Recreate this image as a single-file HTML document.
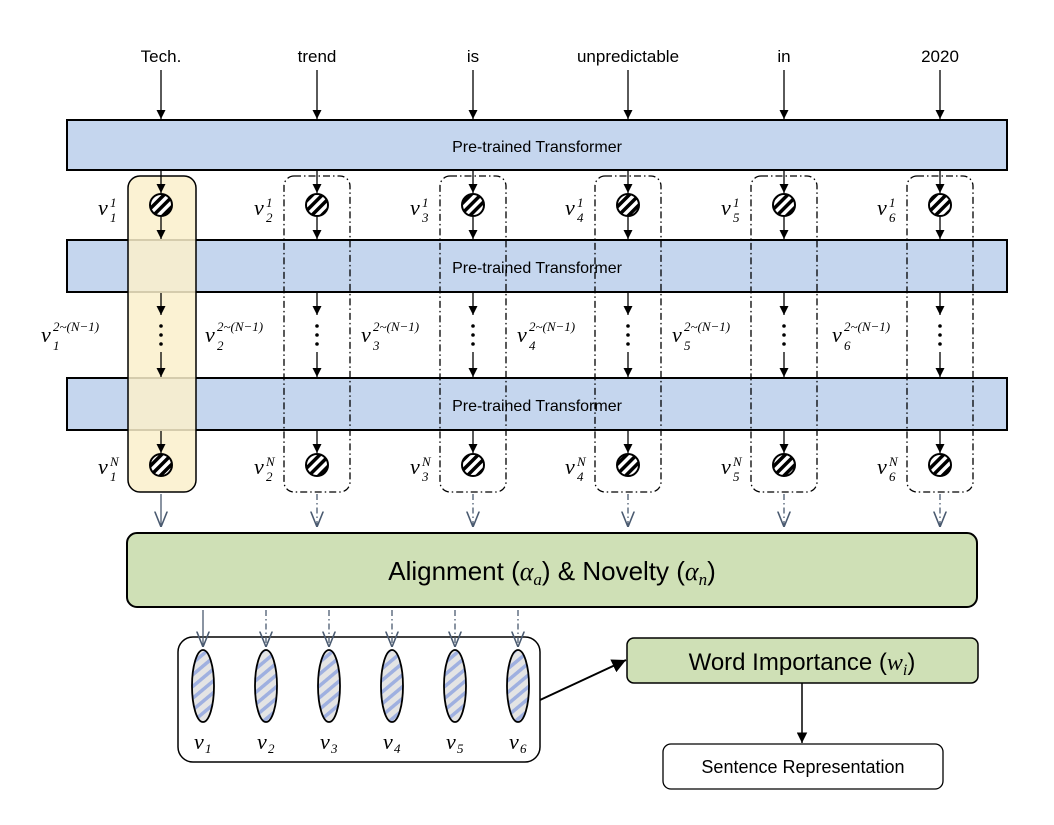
<!DOCTYPE html>
<html><head><meta charset="utf-8"><style>
html,body{margin:0;padding:0;background:#fff;}
svg{display:block;}
.w{font-family:"Liberation Sans",sans-serif;font-size:17px;text-anchor:middle;}
.m{font-family:"Liberation Serif",serif;font-style:italic;font-size:22px;}
.s{font-family:"Liberation Serif",serif;font-style:italic;font-size:13px;}
</style></head><body>
<svg width="1054" height="825" viewBox="0 0 1054 825" xmlns="http://www.w3.org/2000/svg">
<defs>
<marker id="a" viewBox="0 0 10 10" refX="10" refY="5" markerWidth="7" markerHeight="7" orient="auto"><path d="M0,0 L10,5 L0,10 z" fill="#000"/></marker>
<marker id="h" viewBox="0 0 10 10" refX="10" refY="5" markerWidth="12" markerHeight="12" orient="auto"><path d="M0,1 L10,5 L0,9" fill="none" stroke="#4a5a70" stroke-width="1"/></marker>
<pattern id="cp" width="7" height="7" patternUnits="userSpaceOnUse" patternTransform="rotate(45)"><rect width="7" height="7" fill="#fff"/><rect width="3.5" height="7" fill="#000"/></pattern>
<pattern id="ep" width="9" height="9" patternUnits="userSpaceOnUse" patternTransform="rotate(-40)"><rect width="9" height="9" fill="#e4e4e4"/><rect width="9" height="3.5" fill="#9fb0e0"/></pattern>
</defs>

<rect x="67" y="120" width="940" height="50" fill="#c5d6ee" stroke="#000" stroke-width="2"/>
<rect x="67" y="240" width="940" height="52" fill="#c5d6ee" stroke="#000" stroke-width="2"/>
<rect x="67" y="378" width="940" height="52" fill="#c5d6ee" stroke="#000" stroke-width="2"/>
<rect x="128" y="176" width="68" height="316" rx="12" fill="#faf0cb" fill-opacity="0.85" stroke="#000" stroke-width="1.5"/>
<g class="w" style="font-size:16px"><text x="537" y="152">Pre-trained Transformer</text><text x="537" y="273">Pre-trained Transformer</text><text x="537" y="411">Pre-trained Transformer</text></g>

<g fill="none" stroke="#000" stroke-width="1.3" stroke-dasharray="7,3,1.5,3">
<rect x="284" y="176" width="66" height="316" rx="10"/>
<rect x="440" y="176" width="66" height="316" rx="10"/>
<rect x="595" y="176" width="66" height="316" rx="10"/>
<rect x="751" y="176" width="66" height="316" rx="10"/>
<rect x="907" y="176" width="66" height="316" rx="10"/>
</g>

<g class="w"><text x="161" y="62">Tech.</text><text x="317" y="62">trend</text><text x="473" y="62">is</text><text x="628" y="62">unpredictable</text><text x="784" y="62">in</text><text x="940" y="62">2020</text></g>

<g stroke="#000" stroke-width="1.3" marker-end="url(#a)">
<line x1="161" y1="70" x2="161" y2="119"/><line x1="317" y1="70" x2="317" y2="119"/><line x1="473" y1="70" x2="473" y2="119"/><line x1="628" y1="70" x2="628" y2="119"/><line x1="784" y1="70" x2="784" y2="119"/><line x1="940" y1="70" x2="940" y2="119"/>
<line x1="161" y1="170" x2="161" y2="193"/><line x1="317" y1="170" x2="317" y2="193"/><line x1="473" y1="170" x2="473" y2="193"/><line x1="628" y1="170" x2="628" y2="193"/><line x1="784" y1="170" x2="784" y2="193"/><line x1="940" y1="170" x2="940" y2="193"/>
<line x1="161" y1="217" x2="161" y2="239"/><line x1="317" y1="217" x2="317" y2="239"/><line x1="473" y1="217" x2="473" y2="239"/><line x1="628" y1="217" x2="628" y2="239"/><line x1="784" y1="217" x2="784" y2="239"/><line x1="940" y1="217" x2="940" y2="239"/>
<line x1="161" y1="293" x2="161" y2="315"/><line x1="317" y1="293" x2="317" y2="315"/><line x1="473" y1="293" x2="473" y2="315"/><line x1="628" y1="293" x2="628" y2="315"/><line x1="784" y1="293" x2="784" y2="315"/><line x1="940" y1="293" x2="940" y2="315"/>
<line x1="161" y1="352" x2="161" y2="377"/><line x1="317" y1="352" x2="317" y2="377"/><line x1="473" y1="352" x2="473" y2="377"/><line x1="628" y1="352" x2="628" y2="377"/><line x1="784" y1="352" x2="784" y2="377"/><line x1="940" y1="352" x2="940" y2="377"/>
<line x1="161" y1="431" x2="161" y2="453"/><line x1="317" y1="431" x2="317" y2="453"/><line x1="473" y1="431" x2="473" y2="453"/><line x1="628" y1="431" x2="628" y2="453"/><line x1="784" y1="431" x2="784" y2="453"/><line x1="940" y1="431" x2="940" y2="453"/>
</g>
<g fill="#000">
<circle cx="161" cy="326" r="1.8"/><circle cx="161" cy="335" r="1.8"/><circle cx="161" cy="344" r="1.8"/>
<circle cx="317" cy="326" r="1.8"/><circle cx="317" cy="335" r="1.8"/><circle cx="317" cy="344" r="1.8"/>
<circle cx="473" cy="326" r="1.8"/><circle cx="473" cy="335" r="1.8"/><circle cx="473" cy="344" r="1.8"/>
<circle cx="628" cy="326" r="1.8"/><circle cx="628" cy="335" r="1.8"/><circle cx="628" cy="344" r="1.8"/>
<circle cx="784" cy="326" r="1.8"/><circle cx="784" cy="335" r="1.8"/><circle cx="784" cy="344" r="1.8"/>
<circle cx="940" cy="326" r="1.8"/><circle cx="940" cy="335" r="1.8"/><circle cx="940" cy="344" r="1.8"/>
</g>
<g fill="url(#cp)" stroke="#000" stroke-width="2">
<circle cx="161" cy="205" r="11"/><circle cx="317" cy="205" r="11"/><circle cx="473" cy="205" r="11"/><circle cx="628" cy="205" r="11"/><circle cx="784" cy="205" r="11"/><circle cx="940" cy="205" r="11"/>
<circle cx="161" cy="465" r="11"/><circle cx="317" cy="465" r="11"/><circle cx="473" cy="465" r="11"/><circle cx="628" cy="465" r="11"/><circle cx="784" cy="465" r="11"/><circle cx="940" cy="465" r="11"/>
</g>
<g class="m">
<text x="98" y="215">v</text><text x="254" y="215">v</text><text x="410" y="215">v</text><text x="565" y="215">v</text><text x="721" y="215">v</text><text x="877" y="215">v</text>
<text x="98" y="474">v</text><text x="254" y="474">v</text><text x="410" y="474">v</text><text x="565" y="474">v</text><text x="721" y="474">v</text><text x="877" y="474">v</text>
<text x="41" y="342">v</text><text x="205" y="342">v</text><text x="361" y="342">v</text><text x="517" y="342">v</text><text x="672" y="342">v</text><text x="832" y="342">v</text>
</g>
<g class="s">
<text x="110" y="207">1</text><text x="110" y="222">1</text>
<text x="266" y="207">1</text><text x="266" y="222">2</text>
<text x="422" y="207">1</text><text x="422" y="222">3</text>
<text x="577" y="207">1</text><text x="577" y="222">4</text>
<text x="733" y="207">1</text><text x="733" y="222">5</text>
<text x="889" y="207">1</text><text x="889" y="222">6</text>
<text x="110" y="466">N</text><text x="110" y="481">1</text>
<text x="266" y="466">N</text><text x="266" y="481">2</text>
<text x="422" y="466">N</text><text x="422" y="481">3</text>
<text x="577" y="466">N</text><text x="577" y="481">4</text>
<text x="733" y="466">N</text><text x="733" y="481">5</text>
<text x="889" y="466">N</text><text x="889" y="481">6</text>
<text x="53" y="331">2~(N−1)</text><text x="53" y="350">1</text>
<text x="217" y="331">2~(N−1)</text><text x="217" y="350">2</text>
<text x="373" y="331">2~(N−1)</text><text x="373" y="350">3</text>
<text x="529" y="331">2~(N−1)</text><text x="529" y="350">4</text>
<text x="684" y="331">2~(N−1)</text><text x="684" y="350">5</text>
<text x="844" y="331">2~(N−1)</text><text x="844" y="350">6</text>
</g>

<g stroke="#4a5a70" stroke-width="1.3" marker-end="url(#h)">
<line x1="161" y1="494" x2="161" y2="527"/>
</g>
<g stroke="#4a5a70" stroke-width="1.3" stroke-dasharray="6,3,1.5,3" marker-end="url(#h)">
<line x1="317" y1="494" x2="317" y2="527"/><line x1="473" y1="494" x2="473" y2="527"/><line x1="628" y1="494" x2="628" y2="527"/><line x1="784" y1="494" x2="784" y2="527"/><line x1="940" y1="494" x2="940" y2="527"/>
</g>

<rect x="127" y="533" width="850" height="74" rx="10" fill="#cfe0b6" stroke="#000" stroke-width="2"/>
<text x="552" y="580" style="font-family:'Liberation Sans',sans-serif;font-size:26px;text-anchor:middle">Alignment (<tspan style="font-family:'Liberation Serif',serif;font-style:italic">α<tspan font-size="17" dy="5">a</tspan></tspan><tspan dy="-5">) &amp; Novelty (</tspan><tspan style="font-family:'Liberation Serif',serif;font-style:italic">α<tspan font-size="17" dy="5">n</tspan></tspan><tspan dy="-5">)</tspan></text>

<rect x="178" y="637" width="362" height="125" rx="15" fill="#fff" stroke="#000" stroke-width="1.5"/>
<g stroke="#4a5a70" stroke-width="1.3" marker-end="url(#h)">
<line x1="203" y1="610" x2="203" y2="647"/>
</g>
<g stroke="#4a5a70" stroke-width="1.3" stroke-dasharray="6,3,1.5,3" marker-end="url(#h)">
<line x1="266" y1="610" x2="266" y2="647"/><line x1="329" y1="610" x2="329" y2="647"/><line x1="392" y1="610" x2="392" y2="647"/><line x1="455" y1="610" x2="455" y2="647"/><line x1="518" y1="610" x2="518" y2="647"/>
</g>
<g fill="url(#ep)" stroke="#000" stroke-width="1.8">
<ellipse cx="203" cy="686" rx="11" ry="36"/><ellipse cx="266" cy="686" rx="11" ry="36"/><ellipse cx="329" cy="686" rx="11" ry="36"/><ellipse cx="392" cy="686" rx="11" ry="36"/><ellipse cx="455" cy="686" rx="11" ry="36"/><ellipse cx="518" cy="686" rx="11" ry="36"/>
</g>
<g class="m">
<text x="194" y="749">v</text><text x="257" y="749">v</text><text x="320" y="749">v</text><text x="383" y="749">v</text><text x="446" y="749">v</text><text x="509" y="749">v</text>
</g>
<g class="s">
<text x="205" y="753">1</text><text x="268" y="753">2</text><text x="331" y="753">3</text><text x="394" y="753">4</text><text x="457" y="753">5</text><text x="520" y="753">6</text>
</g>

<line x1="540" y1="700" x2="626" y2="660" stroke="#000" stroke-width="2" marker-end="url(#a)"/>
<rect x="627" y="638" width="351" height="45" rx="7" fill="#cfe0b6" stroke="#000" stroke-width="1.5"/>
<text x="802" y="670" style="font-family:'Liberation Sans',sans-serif;font-size:24px;text-anchor:middle">Word Importance (<tspan style="font-family:'Liberation Serif',serif;font-style:italic">w<tspan font-size="16" dy="5">i</tspan></tspan><tspan dy="-5">)</tspan></text>
<line x1="802" y1="683" x2="802" y2="743" stroke="#000" stroke-width="1.5" marker-end="url(#a)"/>
<rect x="663" y="744" width="280" height="45" rx="8" fill="#fff" stroke="#000" stroke-width="1.3"/>
<text x="803" y="773" class="w" style="font-size:18px">Sentence Representation</text>
</svg>
</body></html>
